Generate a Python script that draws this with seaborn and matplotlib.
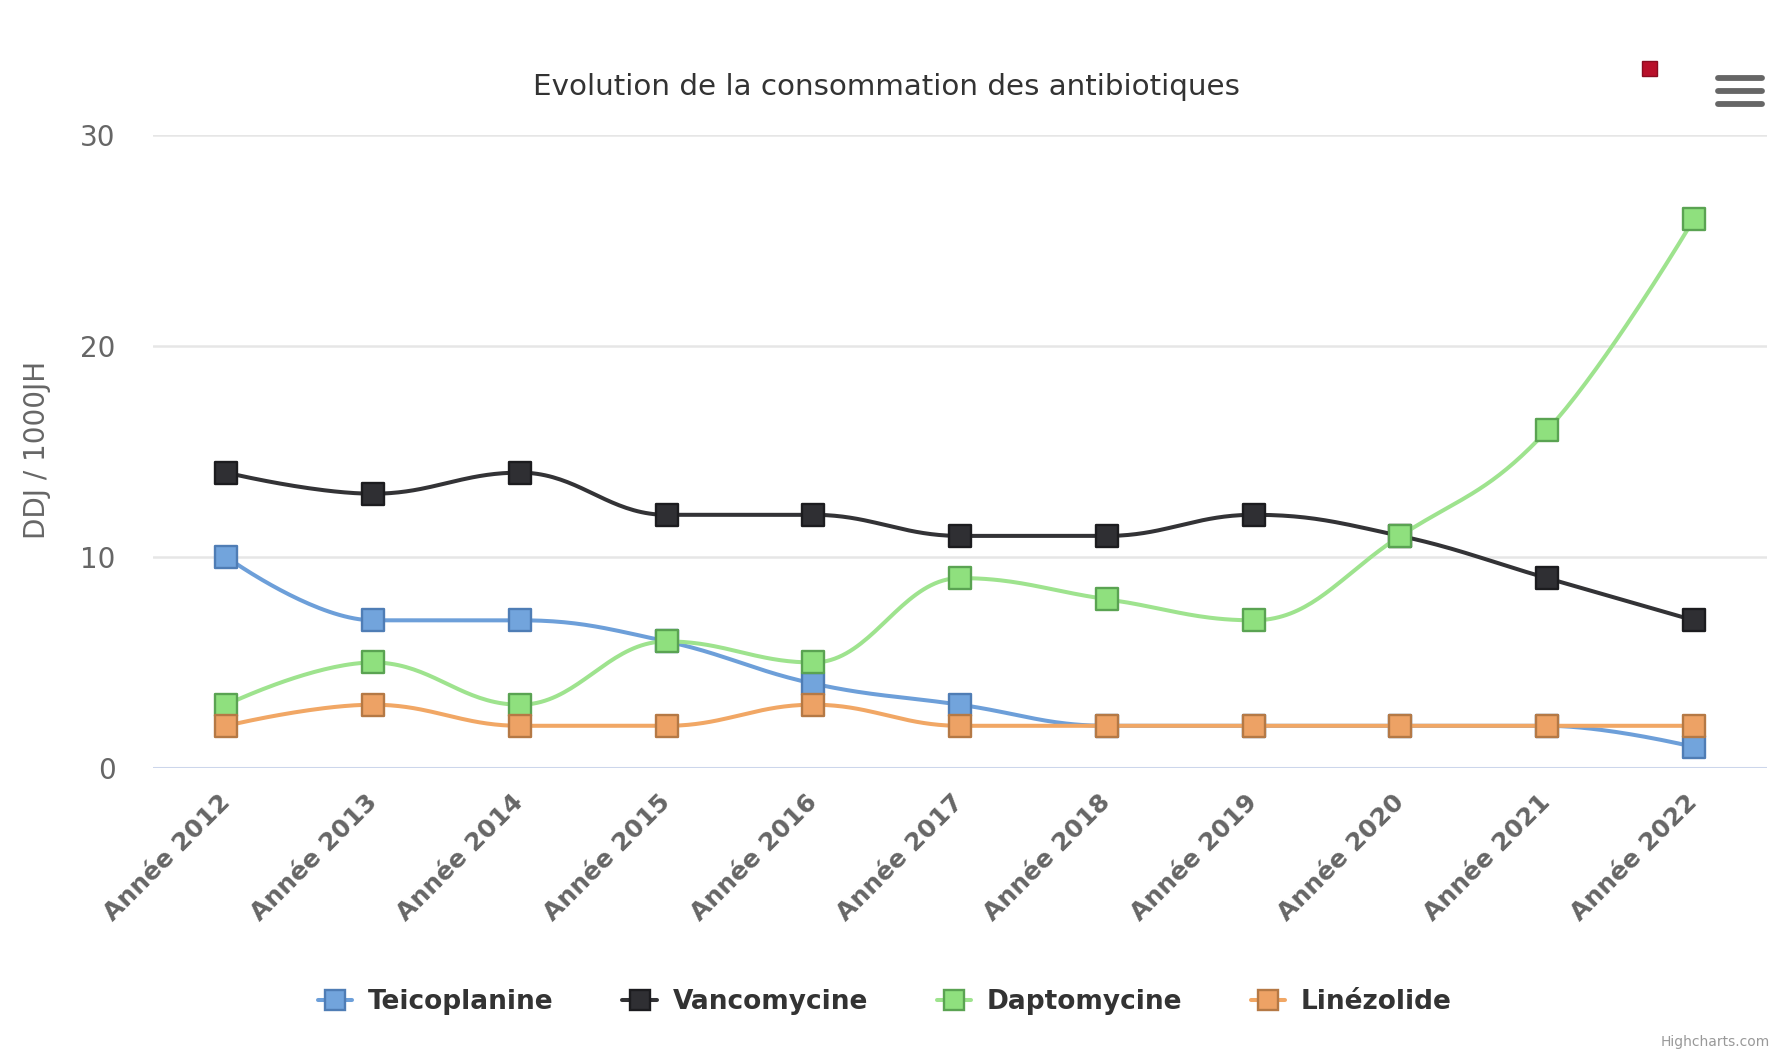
import numpy as np
import pandas as pd
import matplotlib
matplotlib.use("Agg")
import matplotlib.pyplot as plt
from matplotlib.lines import Line2D
from matplotlib.patches import Rectangle
import seaborn as sns

# ---- data -------------------------------------------------------------
years = ["Année 2012", "Année 2013", "Année 2014", "Année 2015", "Année 2016",
         "Année 2017", "Année 2018", "Année 2019", "Année 2020", "Année 2021",
         "Année 2022"]
teicoplanine = [10, 7, 7, 6, 4, 3, 2, 2, 2, 2, 1]
vancomycine = [14, 13, 14, 12, 12, 11, 11, 12, 11, 9, 7]
daptomycine = [3, 5, 3, 6, 5, 9, 8, 7, 11, 16, 26]
linezolide = [2, 3, 2, 2, 3, 2, 2, 2, 2, 2, 2]

series_names = ["Teicoplanine", "Vancomycine", "Daptomycine", "Linézolide"]
series_values = [teicoplanine, vancomycine, daptomycine, linezolide]

title = "Evolution de la consommation des antibiotiques"
y_label = "DDJ / 1000JH"
y_ticks = [0, 10, 20, 30]

# ---- styles -----------------------------------------------------------
line_colors = ["#6d9fd9", "#333336", "#9ee38e", "#f1a765"]
fill_colors = ["#72a4dc", "#2f2f33", "#8fe07e", "#eda265"]
edge_colors = ["#4f7db5", "#1c1c1f", "#5aa352", "#b57945"]


def spline_path(xs, ys, smoothing=1.5, steps=40):
    """Smooth curve through the points (same control-point rule as a
    Highcharts 'spline' series)."""
    n = len(xs)
    left = [(xs[i], ys[i]) for i in range(n)]
    right = [(xs[i], ys[i]) for i in range(n)]
    d = smoothing + 1
    for i in range(1, n - 1):
        px, py = xs[i], ys[i]
        lx, ly = xs[i - 1], ys[i - 1]
        nx, ny = xs[i + 1], ys[i + 1]
        lcx = (smoothing * px + lx) / d
        lcy = (smoothing * py + ly) / d
        rcx = (smoothing * px + nx) / d
        rcy = (smoothing * py + ny) / d
        corr = ((rcy - lcy) * (rcx - px)) / (rcx - lcx) + py - rcy
        lcy += corr
        rcy += corr
        if lcy > ly and lcy > py:
            lcy = max(ly, py); rcy = 2 * py - lcy
        elif lcy < ly and lcy < py:
            lcy = min(ly, py); rcy = 2 * py - lcy
        if rcy > ny and rcy > py:
            rcy = max(ny, py); lcy = 2 * py - rcy
        elif rcy < ny and rcy < py:
            rcy = min(ny, py); lcy = 2 * py - rcy
        left[i] = (lcx, lcy)
        right[i] = (rcx, rcy)
    t = np.linspace(0, 1, steps)
    cx, cy = [xs[0]], [ys[0]]
    for i in range(1, n):
        p0 = np.array([xs[i - 1], ys[i - 1]], float)
        p1 = np.array(right[i - 1], float)
        p2 = np.array(left[i], float)
        p3 = np.array([xs[i], ys[i]], float)
        tt = t[1:, None]
        pts = ((1 - tt) ** 3) * p0 + 3 * ((1 - tt) ** 2) * tt * p1 \
            + 3 * (1 - tt) * tt ** 2 * p2 + tt ** 3 * p3
        cx.extend(pts[:, 0]); cy.extend(pts[:, 1])
    return np.array(cx), np.array(cy)


# ---- figure -----------------------------------------------------------
sns.set_theme(style="white")
plt.rcParams["font.family"] = ["DejaVu Sans"]

fig = plt.figure(figsize=(17.86, 10.64), dpi=100, facecolor="white")
ax = fig.add_axes([0.0857, 0.2782, 0.9037, 0.5949])
ax.set_facecolor("white")

x_pos = np.arange(len(years))

for k, (name, vals) in enumerate(zip(series_names, series_values)):
    cx, cy = spline_path(list(x_pos), list(vals))
    sns.lineplot(x=cx, y=cy, sort=False, estimator=None, color=line_colors[k],
                 linewidth=2.9, ax=ax, zorder=3 + 2 * k, legend=False)
    sns.scatterplot(x=x_pos, y=vals, marker="s", s=230, color=fill_colors[k],
                    edgecolor=edge_colors[k], linewidth=1.7, ax=ax,
                    zorder=4 + 2 * k, legend=False)

ax.set_xlim(-0.5, len(years) - 0.5)
ax.set_ylim(0, 30)
ax.set_yticks(y_ticks)
ax.set_yticklabels([str(v) for v in y_ticks])
ax.set_xticks(x_pos)
ax.set_xticklabels(years, rotation=45, ha="right", va="center",
                   rotation_mode="anchor", fontweight="bold", fontsize=18,
                   color="#666666")
ax.tick_params(axis="x", length=0, pad=22)
ax.tick_params(axis="y", length=0, pad=27, labelsize=20, labelcolor="#666666")
ax.set_xlabel("")
ax.set_ylabel("")

for s in ax.spines.values():
    s.set_visible(False)
ax.grid(axis="y", color="#e6e6e6", linewidth=1.8, zorder=0)
ax.grid(axis="x", visible=False)
ax.axhline(0, color="#ccd6eb", linewidth=2.2, zorder=1)

# ---- texts ------------------------------------------------------------
fig.text(0.4966, 0.918, title, ha="center", va="center", fontsize=21.2,
         color="#333333")
fig.text(0.0207, 0.577, y_label, ha="center", va="center", rotation=90,
         fontsize=20, color="#666666")
fig.text(0.991, 0.014, "Highcharts.com", ha="right", va="bottom",
         fontsize=10, color="#999999")

# legend
handles = [Line2D([0], [0], color=line_colors[k], linewidth=2.9, marker="s",
                  markersize=14, markerfacecolor=fill_colors[k],
                  markeredgecolor=edge_colors[k], markeredgewidth=1.7)
           for k in range(len(series_names))]
leg = fig.legend(handles, series_names, loc="center",
                 bbox_to_anchor=(0.4955, 0.0583), ncol=4, frameon=False,
                 handlelength=1.3, handletextpad=0.6, columnspacing=2.6,
                 prop={"weight": "bold", "size": 19})
for txt in leg.get_texts():
    txt.set_color("#333333")

# export button and menu icon
fig.patches.append(Rectangle((1642 / 1786, 1 - 76 / 1064), 15 / 1786, 15 / 1064,
                             transform=fig.transFigure, facecolor="#b8102a",
                             edgecolor="#8a0c20", linewidth=1))
for yy in (78, 91, 104):
    fig.lines.append(Line2D([1718 / 1786, 1762 / 1786],
                            [1 - yy / 1064, 1 - yy / 1064],
                            transform=fig.transFigure, color="#666666",
                            linewidth=4.2, solid_capstyle="round"))

fig.savefig("out.png", dpi=100, facecolor="white")
